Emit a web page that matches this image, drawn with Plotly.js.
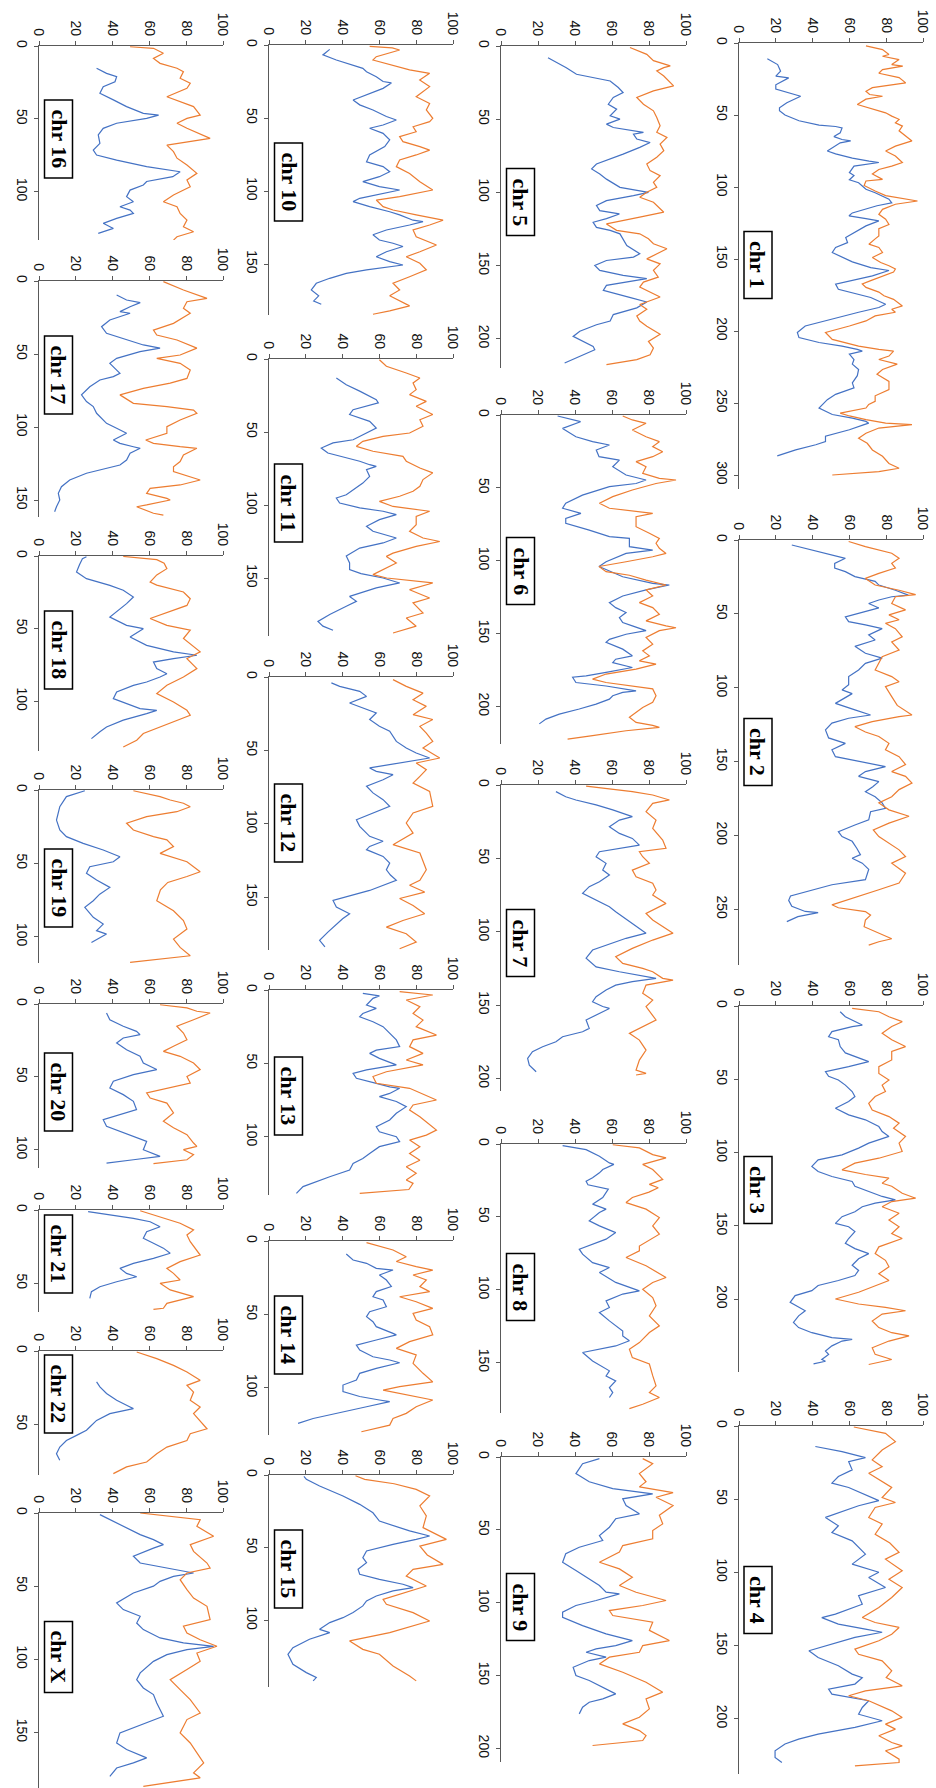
<!DOCTYPE html>
<html><head><meta charset="utf-8">
<script src="https://cdn.plot.ly/plotly-3.0.1.min.js"></script>
<style>html,body{margin:0;padding:0;background:#fff;overflow:hidden}#chart{width:936px;height:1788px}</style>
</head><body><div id="chart"></div><script>
// ---------------- data (position, value) ----------------
const chromosomes = ['chr 1','chr 2','chr 3','chr 4','chr 5','chr 6','chr 7','chr 8','chr 9','chr 10','chr 11','chr 12','chr 13','chr 14','chr 15','chr 16','chr 17','chr 18','chr 19','chr 20','chr 21','chr 22','chr X'];
const valueTicks = [0,20,40,60,80,100];

const chr1BluePos = [11,15,19.6,23,24.2,29,32,37,41.5,45,47,50,54,57,58,59,62.4,65,67,68,69.3,73,75,77,80,82,83,85.5,90,92,95,97,101.6,104,108.5,111,113,118,120,122,123.5,127,131.6,135,138.6,142,145.5,149,152,156,158,161.7,165,167.4,171,174,176.7,181.4,183.7,187,190.7,193,196.5,201,204.6,208,210.5,212.8,214,216,219.8,223,226.7,231,236,239.5,244,247.7,253.5,258,260.5,262.8,264,265,268.6,273,276.7,279,282.6,286.7];
const chr1Blue = [15.4,21,22.6,20,27,20,20,33.5,26,22,22,25,32.6,43.5,52.5,56,55,51.6,56,60.7,55,50,48,52.5,61.6,70.7,76,62.5,60,62.5,60,65,69,74,81.5,83,75,61.6,59.8,69,76,69,62.5,58,59,52.5,50.7,57,61.6,71.6,81.5,72.5,61.6,52.5,54,62.5,71.6,79.7,76,65,54,47,36,31.7,32.6,43.5,56,64.3,67,60,62.5,61.6,65,64.3,61.6,62.5,52.5,48,43.5,50.7,61.6,69,70.5,68,60,47,47,41.7,30.8,20.8];
const chr1OrangePos = [2,4.6,8,9.2,11.5,15,16,18.5,21,24,27.7,31,33.5,35.8,37,39,42.7,45,48.5,50.8,53,55.4,57.7,61,68,71.6,75,78.5,83,85.5,87.8,91,94.7,95.8,99,102.8,106,109.7,112,115.5,119,122.4,126,129,134,136,139.7,142,145.5,149,152.4,154.7,157,159,161.7,165,167.4,169.7,173,175.5,178,182.6,184.9,187,189.5,193,196.5,201,205.8,210.5,212.8,214,217.4,219.8,223,226.7,230,235,240.7,245,248.8,251,253.5,257,259,261.6,264,265,267.4,271,274.4,278,282.6,287,292,295.3,297.7,300];
const chr1Orange = [69,78,81.5,78,87,83,89,78,76,87,90.6,72.5,69,71,78,69,64.3,70.6,79.7,83,87,85,88.8,87,94,85,79.7,85,88.8,83,76,72.5,78,69,68,74,79.7,97,85,78,76,79.7,81.5,76,76,74,70.6,76,78,72.5,77,81.5,85,84,78,71.6,67,69,76,78.8,84,88.8,83,85,74,69,60,47,50.7,65,76,84,81.5,76,86,78,75,81.5,81.5,74,74,70.5,69,55,60,69,79.7,94,76,69,65,69.7,72.5,78,81.5,87,76,50.7];

const chr2BluePos = [3.4,6.8,10,12.4,15.8,19,21.4,24.8,28,30.5,34,37.3,38.4,40.6,43,46,52,55.3,57.5,60,64.3,67.7,72,76.7,80,83.5,88,92.5,98,101.5,104,110.6,115,118.5,120.7,124,128.6,134,137.7,142,146.7,150,153.4,156.8,160,163.6,167,170.4,173.8,178,181.7,184,189.5,193,197.5,200.8,204,208.7,213,215.5,218.8,223,230,233.4,238,241,244,248,251.5,252.3,255,258.4];
const chr2Blue = [28.7,39.6,50.5,57.8,52,52,57.8,63,74,76,85,92,83,76,70.5,76,57.8,59.6,68.7,77.8,70.5,74,63,68.7,77.8,68.7,65,59.6,59.6,56,61.5,52.4,63,71.5,59.6,50.5,47,48.7,57.8,50.5,52.4,65,79.6,68.7,65,76,72.7,68.7,74,77.8,79.6,71.5,70.5,63,54,56,61.5,64,66,61.5,67,70.5,68.7,50.5,36,28,27,28.7,36,43,32,26];
const chr2OrangePos = [1,4.5,9,12.4,15.8,19,22.6,26,30.5,34,37,38.4,43,47.3,50.7,54,56.4,60,65.5,69,74.5,79,88,92.5,96,99.3,106,112,118.5,119.6,123,126.4,130,133,137.7,142,146.7,152,156.8,160,164.6,169,173.8,178,182.7,187,191.7,196.3,200.8,205,209.8,214.3,218.8,225.6,232.3,236.8,240,243.7,247,249,251.6,254,257.3,261.8,266.4,270,272,274.3];
const chr2Orange = [59.6,68.7,83,87,83,85,76,68.7,74,87,96,85,83,90.5,81.5,87,79.6,85,88.7,83,87,77.8,74,83,87,79.6,83,86,94,87,72.4,63,68.7,76,81.5,79.6,87,90.5,83,90.5,94,87,83,76,81.5,92.4,81.5,73,76,81.5,87,90.5,83,90.5,87,76,68,59.6,50.5,54,68.7,71.5,68.7,68,76,83,76,70.5];

const chr3BluePos = [3.9,7.3,13,14.1,17.5,21,23,27.7,32,38,41.4,44.8,48,50.5,54,58.4,61.8,65.2,69.8,74.3,77.7,82.3,85.7,89,93.6,97,101.6,105,109.5,113,116.4,119.8,123,126.6,130,132.3,134.6,137,140.4,143.8,148.4,150.7,154,158.7,162,165.6,169,172.5,177,180.5,184,187.4,190.8,194.3,197.7,202.3,205.7,208,211.5,216,219.5,223,226.4,227.5,228.7,232,235.5,237.8,241.3,242.5,244.3];
const chr3Blue = [55,57.8,67,61.5,50.5,48.7,54,55,57.8,70.5,59.6,47,48.7,54,57.8,61.5,63,59.6,52.4,59.6,68.7,76,77.8,81.5,70.5,65,56,43,39.6,43,50.5,61.5,63,70.5,77.8,85,74,67,63,56,52.4,59.6,63,59.6,57.8,63,70.5,65,61.5,65,63,54,43,39.6,30.5,27.8,32.4,36,32.4,29.6,32.4,39.6,50.5,61.5,56,50.5,47,48.7,45,47,40.5];
const chr3OrangePos = [1.6,3.9,7.3,10.7,14,18.6,23,27.7,31,36.8,41.4,46,50.5,54,58.4,61.8,66.4,71,75.5,80,83.4,89,93.6,99.3,103.9,107.3,111.8,115,117.5,121,123,127.8,131.2,133.5,137,141.5,146,150.7,155.3,158.7,164.4,169,173.6,178,182.8,187.4,195.4,200,203.4,205.7,208,210.3,215,219.5,223,225.2,228.7,233.3,237.8,241.3,244.7];
const chr3Orange = [61.5,76,81.5,88.7,83,77.8,83,90.5,83,83,76,76,81.5,77.8,79.6,74,70.5,72.4,81.5,87,84,90.5,87,88.7,76,63,56,68.7,81.5,77.8,83,88.7,96,83,77.8,87,81.5,87,83,88.7,76,74,79.6,81.5,76,81.5,65,52.4,65,79.6,90.5,77.8,72.4,76,83,92.4,81.5,72.4,74,83,70.5];

const chr4BluePos = [14,17.5,21.6,24.3,30,34.5,39,42,51,54.5,62.5,68.2,72.8,78.5,87.6,94.4,100,103.5,110.4,116,121.8,128.6,131,135.4,138.8,141,144.5,150,153.6,158.2,163.9,169.6,172,176.4,179.8,183.3,187.8,192.4,197,201.5,206,210.6,214,217.4,222,226.5,230];
const chr4Blue = [41.5,56,68.7,59.6,61.5,54,50.5,59.6,76,65,47,54,50.5,61.5,68.7,61.5,76,70.5,79.6,65,67,52.4,45,54,68.7,77.8,63,47,38,43,54,61.5,67,63,48.7,50.5,70.5,67,65,77.8,63,43,32.4,25,19.6,19.6,23.3];
const chr4OrangePos = [0.7,5,10.7,16.4,23.2,27.8,32.3,36.8,42,48.9,52.3,55.7,62.5,67,74,80,86.4,91,99,104.7,110.4,117.2,124,130.9,134.3,137.7,142.3,146.8,152.5,156,160.5,167.3,172,177.6,181,184.4,187.8,194.7,199.2,203.8,207.2,211.7,216.3,218.6,222,227.7,230,232.3];
const chr4Orange = [62.4,79.6,85,77.8,72.4,77.8,70.5,76,83,77.8,85,74,70.5,77.8,74,82,87,79.6,88.7,81.5,88.7,83,76,67,74,87,83,76,63,65,77.8,83,80,88.7,68.7,59.6,70.5,83,88.7,79.6,85,76,83,88.7,79.6,87,87,63];

const chr5BluePos = [8,14.8,19.3,22.7,23.9,28.4,31.8,35.2,39.8,43.2,47.7,50,53.4,55.7,59,60.2,63.6,66,69.3,73.9,77.3,80.7,84,87.5,91,96.6,100,102.3,105.7,109,112.5,114.8,118,120.5,124,126,128.4,131.8,136.4,142,144.3,146.6,150,153.4,156.8,159,161.4,163.6,167,169.5,172,175,179,183.6,188,190.5,195,198.5,201.9,205.3,207.6,211,214.4,216.7];
const chr5Blue = [25.4,35.3,40.8,53.4,59,63.4,66,60.7,58,62.5,59,64.3,57,60.7,77,71.6,73.4,80.6,75,66,59,51.6,49,53.4,57,64.3,79.7,71.6,57,51.6,53.4,64,57,49.8,51.6,59,64.3,66,68,75,71.6,57,50.7,53.4,66,78.8,66,57,55.3,62,70,78.8,73.4,60.7,59,51.6,42.6,39,44.4,49.8,50.7,44.4,39,34.4];
const chr5OrangePos = [1,5.7,10,13.6,14.8,17,20.5,27.3,30.7,35.2,39.8,44.3,48.9,54.5,59,62.5,67,71.6,76,80.7,85.2,88.6,93.2,96.6,100,103.4,106.8,113.6,117,121.6,126,128.4,131.8,135.2,138.6,142,145.5,148.9,153.4,158,161.4,164.8,169.3,171.6,176.7,180,184.5,188,191.5,197,201.9,206.5,211,214.4,217.8];
const chr5Orange = [69.7,78.8,82.4,91.5,88,84.2,88,93.3,82.4,73.4,77,82.4,84.2,86,84.2,89.7,86,88,84.2,78.8,80.6,86,82.4,84.2,78.8,75,82.4,88,75,57,62.5,75,79.7,82.4,89.7,84.2,78.8,86,82.4,85,77,75,82.4,86,75,78.8,73.4,75,78.8,86,79.7,82.4,80.6,73.4,57];

const chr6BluePos = [0.7,4.6,9.2,14.9,18.3,20.6,24,28.6,31,35.5,41.2,44.6,47,49.2,55,60.6,64,67.5,71,74.4,79,83.5,84.7,90.4,92.7,95,100.7,104,111,115.6,116.7,120,124.2,128.8,132.2,135.6,139,142.5,144.7,148,150.5,154,156,160.7,165.3,167.6,170,173.3,176.7,179,180,183.6,186,188,189.3,190.4,192.7,195,198.4,201.8,205.3,208.7,212];
const chr6Blue = [30.6,43,33.3,40.5,49.5,58.6,51.5,53,64,60.4,67.6,78.4,73,58.6,44,35,33.3,43.2,35,35,47.7,58.6,69.4,69.4,82,67.6,56.8,53,65.8,82,91,78.4,65.8,58.6,62,67.6,64,65.8,71,78.4,67.6,58.6,56.8,65.8,71,62,60.4,71,56.8,46,38.7,40.5,56.8,67.6,73,65.8,60.4,58.6,51.4,42.3,31.5,24.3,20.7];
const chr6OrangePos = [0.7,3.4,5.7,10.3,14.9,18.3,21.7,25.2,28.6,32,35.5,40,43.5,44.6,47,51.5,56,60.6,64,65.2,67.5,69.8,76.7,81.2,84.7,88,91.5,95,97.3,100.7,104,107.5,110,113.3,116.7,120,124.2,128.8,132.2,136.8,141.3,144.7,146,148,152.7,157.3,161.9,165.3,168.7,171,174.4,177.8,181.3,183.6,185.8,188,192.7,197.2,200.7,207.5,211,213,214.4,216.7,220,222.4];
const chr6Orange = [65.8,71,78.4,71,78.4,85.6,82,87.4,82,73,78.4,76.6,85.6,94.6,83.8,71,60.4,53.2,58.6,67.6,82,73,73,80.2,85.6,83.8,85.6,89.2,82,67.6,53,56.8,69.4,78.4,89.2,78.4,82,74.8,82,85.6,78.4,89.2,94.6,85.6,78.4,82,76.6,80.2,74.8,83.8,73,56.8,49.5,56.8,71,82,83.8,82,76.6,69.4,73,82,85.6,67.6,49.5,36];

const chr7BluePos = [4.5,8,10.2,13.6,17,19.3,21.6,23.9,28.4,33,36.4,41,43.2,45.5,48.9,53.4,58,61.4,65.9,69.3,73.9,77.3,83,86.4,93.2,101,104.5,109,112.5,118,124,127.3,129.5,131.8,134,136.4,139.8,144.3,147.7,151,152.3,155.7,160.2,165.9,168.2,171.6,175,178.4,181.8,186.4,191,195.5];
const chr7Blue = [29.7,35,40.5,51.4,60.4,65.8,71,64,58.6,64,71,74.8,64,53.2,51.4,56.8,55,58.6,53.2,47.7,44.1,49.5,58.6,62,69.4,78.4,67.6,56.8,49.5,46,51.4,64,74.8,83.8,71,62,56.8,51.4,49.5,55,58.6,53,46,47.7,44.1,33.3,29.7,22.5,17,14.4,15.3,19];
const chr7OrangePos = [0.7,2.3,4.5,6.8,10.2,12.5,18.2,23.9,29.5,37.5,43.2,45.5,48.9,53.4,58,62.5,67,71.6,75,80.7,87.5,92,101,105.7,111.4,117,121.6,125,127.3,131.8,133,136.4,142,146.6,151,160.2,169.3,173.9,180.7,187.5,194.3,196.6,197.7];
const chr7Orange = [46,56.8,71,82,91,82,78.4,83.8,82,87.4,89.2,74.8,76.6,80.2,71,73,82,83.8,82,89.2,78.4,82,93,82,71,62,65.8,76.6,82,87.4,93,78.4,76.6,82,78.4,83.8,69.4,74.8,78.4,74.8,73,78.4,73];

const chr8BluePos = [1.1,3.9,8.4,13,14,17.5,19.8,23.2,25.5,28,31,36.7,41.3,44.7,47,52.7,56.2,60.8,65.3,72.2,75.6,81.4,84.8,88.2,95,100.8,103,107.7,112.2,115.7,121.4,128.3,131.7,135,138.6,140.8,143.1,148.9,155.7,159.2,162.6,167.2,170.6,174];
const chr8Blue = [33.3,46,53.2,58.6,61,55,53.2,49.5,46,47,58,55,49.5,56.8,53.2,47.7,53.2,62,56.8,42.3,44.1,49.5,58.6,53.2,62,74.8,65.8,56.8,58.6,53.2,58.6,65.8,65.8,69.4,62,53.2,44.1,49.5,58.6,56.8,62,58.6,60.4,58.6];
const chr8OrangePos = [0.5,2.7,7.3,9.5,14,17.5,24.3,27.7,30,33,36.7,40.2,44.7,50.5,56.2,61.9,70,73.3,77.9,83.6,91.6,95,99.7,105.4,111,118,124.8,129.4,136.3,140.8,146.6,151,159,166,170.6,174,178.6,181.6];
const chr8Orange = [60.4,74.8,82,89.2,76.6,82,87.4,80.2,85,80,71,67.6,78.4,85.6,82,85.6,74.8,74.8,67.6,78.4,89.2,82,76.6,82,83.8,80.2,85.6,80.2,74.8,69.4,71,80.2,82,83.8,80.2,85.6,76.6,69.4];

const chr9BluePos = [1.1,4.6,11.4,17,21.7,25.3,28.7,33.3,39,42.4,48.2,53.9,57.3,61.9,66.4,72.2,77.9,83.6,88.2,92.8,93.9,98.5,101.9,106.5,110,115.7,121.4,126,129.4,131.7,134,137.4,139.7,144.3,150,153.4,159.2,162.6,166,168.3,171.7,176.3];
const chr9Blue = [53.2,44.1,40.5,47.7,60.4,82,65.8,67.6,74.8,62,58.6,53.2,55,42.3,35,33.3,40.5,47.7,53.2,56.8,64,51.4,40.5,33.3,33.3,44.1,56.8,71,62,51.4,46,56.8,47.7,39,40.5,47.7,56.8,62,55,47.7,44.1,42.3];
const chr9OrangePos = [1.1,4.6,11.4,17,20.5,24.4,27.6,33.3,40,45.9,50.5,56.2,60.8,65.3,72.2,76.8,82.5,88.2,92.8,98.5,101.9,105.4,108.8,113.4,119,126,129.4,134,137.4,142,147.7,154.6,161.4,166,172.9,178.6,183.2,187.8,191.2,194.6,198];
const chr9Orange = [76.6,82,74.8,78.4,74.8,93,83.8,93,85.6,87.4,82,82,65.8,64,53.2,64,71,64,73,89.2,76.6,58.6,60.4,82,80.2,91,76.6,74.8,58.6,53.2,65.8,78.4,87.4,78.4,80.2,74.8,65.8,74.8,78.4,76.6,49.5];

const chr10BluePos = [3,6.8,10.3,13.7,16,18.3,21.7,25,26,29.7,34.2,37.7,41,44.5,49,51.4,54.8,57,60.5,65,69.6,75.3,80,83.3,86.8,90.2,93.6,97,99.3,101.6,105,107.3,110.7,114.2,116.4,120,121,123.3,126.7,130,133.6,135.8,138,141.6,145,148.4,150.7,154,156.4,159.8,163.2,167.8,171.8,175.3,177.6];
const chr10Blue = [33,29.3,36.6,45.7,51,53,58.3,62,66.5,62,53,45.7,49.3,56.5,63.8,69.2,62,54.7,62,65.6,62.9,54.7,53,62,65.6,60,51,60,71,62,49.3,45.7,54.7,65.6,71,78.3,83.7,76.4,63.8,56.5,60,67.4,72.8,63.8,58.3,65.6,72.8,53,42,33,25.7,23,27,24.3,28.4];
const chr10OrangePos = [1,2,3.4,8,10.3,14.8,17,19.4,24,28.5,35.4,40,44.5,50.2,52.5,56,59.4,62.8,66.2,69.6,72,75.3,78.8,83.3,88,93.6,99.3,103.9,106.2,110.7,113,116.4,120,123.3,126.7,131.3,137,141.6,145,149.5,154,158.7,163.2,167.8,171.8,178.7,182.1,184.4];
const chr10Orange = [54.7,67,71,58.3,56.5,69.2,76.4,87.3,81.9,87.3,80,87.3,85.5,89,87.3,78.3,80,71,72.8,82,87.3,80,71,69.2,76.4,82,89,71,58.3,62,67.4,80,94.6,87.3,78.3,80,91,82,74.6,82,85.5,76.4,67.4,71,65.6,76.4,65.6,56.5];

const chr11BluePos = [13,17.6,22,27.9,30,34.7,38,40.4,42.7,47.3,51.8,55.3,57.5,61,64.4,67.8,70,72.4,73.5,75.8,80.4,85,89.5,93,95.2,98.6,102,104.3,106.6,110,114.6,118,122.6,126,129.5,135,139.7,144.3,147,150,153.4,156.8,162.6,166,169.4,175,179.7,183,185.8];
const chr11Blue = [36.6,42,49.3,58.3,59.4,45.7,43.8,49.3,54.7,58.3,51,45.7,34.8,28.4,32,42,49.3,54.7,58.3,53,54.7,51,45.7,42,36.6,38.4,49.3,62,69.2,60,53,56.5,69.2,62,49.3,42,43.8,43.8,50,62,71,58.3,43.8,47.5,42,33,26.6,29.3,34.8];
const chr11OrangePos = [0.5,5,9.6,13,16.4,21,24.4,29,32.4,38,41.6,46,50.7,53,56.4,59.8,63.2,66.7,70,74.7,78,82.6,87.2,90.6,94,97.5,101,103.2,104.3,107.8,113.5,118,122.6,125,128.3,133,135.2,139.7,144.3,147.7,150,153.4,158,163.7,167,174,177.4,183,187.7];
const chr11Orange = [60,63.8,74.6,82,78.3,80,76.4,85.5,80,89,82,83.7,76.4,62,51,47.5,56.5,72.8,74.6,82,89,83.7,82,78.3,71,60,67.4,82,87.3,80,80,76.4,83.7,92.8,80,67.4,63.8,69.2,62,56.5,64,89,76.4,87.3,78.3,83.7,74.6,80,67.4];

const chr12BluePos = [4,6.4,9.8,13.2,17.7,21,24.5,29,33.6,37,43.9,48.4,51.8,55.2,58.6,62,64.3,66.6,70,74.5,79,83.6,88.2,92.7,97.3,101.8,108.6,112,115.5,117.7,122.3,126.8,131.4,135,138.6,145.5,152.3,156.8,161.4,164.8,170.5,173.9,179.5,184];
const chr12Blue = [33.9,38.4,49.3,53,43.8,51,58.3,54.7,60,65.6,69.2,74.6,80,87.3,71,54.7,58.3,67.4,62,53,56.5,62,65.6,56.5,47.5,49.3,54.7,62,54.7,53,62,65.6,63.8,66,69.2,54.7,34.8,36.6,43.8,40,34.8,32,27.5,30.4];
const chr12OrangePos = [1.8,6.4,11,15.5,20,25.7,29,33.6,38.2,43.9,48.4,55.2,58.6,63.2,67.7,72.3,78,88.2,92.7,99.5,106.4,114.3,120,125.7,131.4,138.6,142,146.6,151,155.7,161.4,166,170.5,175,180.7,185.2];
const chr12Orange = [67.4,74.6,83.7,78.3,85.5,78.3,89,82,85.5,89,83.7,92.8,80,85.5,82,78.3,87.3,89,78.3,74.6,78.3,67.4,82,83.7,85.5,82,76.4,84.6,71,78.3,84.6,72.8,63.8,74.6,80,71];

const chr13BluePos = [2.3,4,5.7,10.2,12.5,16,18.2,21.6,25,29.5,34,38.6,41,43.2,46.6,51,54.5,56.8,60.2,63.6,66,67,70.5,72.7,76,79.5,84,88.6,93.2,96.6,100,103.4,106.8,111.4,114.8,118.2,122.7,127.3,130.7,134,138.6];
const chr13Blue = [51,60,56.5,53,58.3,51,49.3,56.5,62,65.6,69.2,71,58.3,54.7,60,69.2,53,45.7,47.5,58.3,65.6,71,65.6,60,69.2,74.6,69.2,65.6,58.3,60,69.2,71,60,54.7,51,45.7,43.8,33,25.7,18.5,14.9];
const chr13OrangePos = [1.1,3.4,6.8,11.4,16,20.5,25,30.7,34,38.6,43.2,47.7,51,55.7,59,63.6,67,75,78.4,81.8,86.4,95.5,98.9,102.3,106.8,111.4,116,120.5,125,129.5,131.8,136,138.6];
const chr13Orange = [71,89,74.6,82,78.3,83.7,80,91,78.3,76.4,83.7,74.6,83.7,63.8,56.5,58.3,76.4,91,78.3,76.4,82,91,85.5,76.4,82,76.4,82,74.6,80,74.6,78.3,76,49.3];

const chr14BluePos = [8.9,13,15.2,18.6,19.8,23.2,26.6,31,34.5,38,40.2,44.8,48.2,51.6,55,58.4,63,64,67.5,71,74.3,78.9,81.1,83,86.8,90.2,94.8,98.2,102.7,106,108.4,109.5,113,117.5,121,124.3];
const chr14Blue = [42,45.7,53,58.3,67.4,60,63.8,66.5,58.3,56.5,62,63.8,54.7,53,56.5,58.3,67.4,69.2,58.3,47.5,49.3,56.5,65.6,71,58.3,49.3,47.5,40.2,40.2,49.3,60,65.6,53,36.6,24,15.8];
const chr14OrangePos = [1.1,6.1,10.7,14,17.5,19.8,23.2,26.6,31,34.5,38,41.4,45.9,49.3,53.9,58.4,64,68.6,73.2,77.7,83.4,90.2,96,99.3,101.6,105,108.4,113,117.5,121,125.5,130];
const chr14Orange = [53,67.4,74.6,69.2,80,89,78.3,85.5,82,87.3,71,80,89,78.3,80,87.3,89,76.4,69.2,80,78.3,83.7,89,71,62,76.4,89,80,74.6,67.4,65.6,50.2];

const chr15BluePos = [1,3,7.6,14.4,20.2,26,31.7,35,38.5,42,44.3,47.7,52.3,56.9,60.3,64.9,68.3,71.8,75.2,77.5,79.8,83.3,86.7,90.1,94.7,98.2,101.6,106.2,108.5,113,118.8,123.4,130.3,136,139.4,141.7];
const chr15Blue = [19,20.3,27.5,40.2,49.3,56.5,60,67.4,76.4,87.3,80,67.4,53,51,53,48.4,49.3,60,72.8,78.3,67.4,58.3,53,51,45.7,40.2,33,27.5,33,22,13,10.3,13,20.3,25.7,24];
const chr15OrangePos = [0.5,3,6,9.9,14.4,21.3,28.2,36.2,44.3,48.9,55,61.5,64.9,69.5,76.4,79.8,85.6,89,94.7,100.5,108.5,114.2,120,123.4,131.4,138.3,141.7];
const chr15Orange = [47,52,68,80,87.3,82,85.5,83.7,96.4,82,86,94.6,78.3,74.6,85.5,76.4,62,63.8,78.3,87.3,65.6,43.8,51,60,67.4,76.4,80];

const chr16BluePos = [15.3,18.8,21,24.5,28,32.5,37,41.6,46.2,47.4,49.7,53,56.5,61,66.8,71.4,74.8,78.3,82.8,85,86.3,89.7,93,95.4,98.9,103.4,106.9,110.3,112.6,114.9,118.3,121.7,125.2,128.6];
const chr16Blue = [31.3,36.7,42.2,41.3,34.9,33.1,40.4,47.6,56.7,65,58.5,42.2,34.9,32.2,33.1,29.5,31.3,42.2,58.5,71.3,76.7,72.7,58.5,56.7,49.5,47.6,51.3,44,49.5,51.3,42.2,34.9,40.4,32.2];
const chr16OrangePos = [0.5,1.6,5,8.5,11.9,15.3,17.6,22.2,25.6,29,34.8,38.2,41.6,47.4,49.7,53,56.5,63.4,65.7,68,72.5,77,81.7,87.4,92,96.6,102.3,106.9,110.3,114.9,119.5,124,127.5,130.9,133.2];
const chr16Orange = [49.5,62.2,67.6,62.2,65.8,75,78.5,76.7,82.2,80.4,69.5,76.7,84,87.6,80.4,75,80.4,93,80.4,69.5,73.1,75,80.4,85.8,80.4,82.2,73.1,67.6,75,76.7,80.4,78.5,84,75,73.1];

const chr17BluePos = [9.6,13,14.8,17.6,21,22.1,26.7,31.3,35.8,40.4,43.8,46,48.4,53,56.4,61,63.2,65.5,67.8,72.4,78,82.6,86,90.6,92.9,97.5,100.9,104.3,108.9,111.2,113.5,114.6,118,122.6,126,129.5,131.7,136.3,140.9,145.4,150,154.6,158];
const chr17Blue = [42.2,47.6,55,49.5,44,49.5,38.5,34,36.7,47.6,56.7,65.8,54.9,42.2,38.5,42.2,44,40.4,33.1,27.6,23.1,25.8,29.5,31.3,33.1,36.7,42.2,47.6,40.4,44,51.3,55,49.5,47.6,44,33.1,25.8,16.7,12.2,10.5,11.3,9.5,8.5];
const chr17OrangePos = [0.4,6.2,11.9,14.2,18.7,22.1,29,33.6,37,40.4,46,50.7,53,56.4,61,66.7,70,73.5,78,83.8,86,88.4,90.6,95.2,99.8,104.3,108.9,111.2,113.5,114.6,119.2,123.7,127.2,130.6,136.3,139.7,142,145.4,148.9,150,153.4,154.6,159.1,160.3];
const chr17Orange = [67.6,78.5,91.3,80.4,78.5,82.2,73.1,62.2,64,75,85.8,76.7,64,76.7,82.2,80.4,71.3,56.7,44,51.3,69.5,84,85.8,76.7,69.5,69.5,58,62.2,76.7,85.8,78.5,76.7,73.1,73.1,87.6,76.7,60.4,58.5,69.5,71.3,58.5,53.1,62.2,67.6];

const chr18BluePos = [0.5,1.8,6,11,15.6,20.2,23.6,28.2,32.8,42,47.7,50,55.7,61.5,66,68.3,70.6,73,77.5,81,83.3,86.7,89,93.6,98.2,101.6,105,106.2,108.5,113,117.7,121,125.7];
const chr18Blue = [25.8,23.6,22,20.4,25.8,38.5,45.8,51.3,47.6,38.5,47.6,56.7,49.5,58.5,73.1,85.8,73.1,62.2,64,69.5,65.8,58.5,51.3,42.2,40.4,47.6,54.9,64,58.5,45.8,36.7,33.1,28.5];
const chr18OrangePos = [0.3,2.5,5,8.7,13,17.9,20,24.8,29.4,34,43,47.7,51,56.8,66,70.6,77.5,83.3,89,94.7,100.5,106.2,109.6,114.2,122.2,126.8,131.4];
const chr18Orange = [45.8,64,68,69.5,64,60.4,64,78.5,82.2,80.4,60.4,69.5,82.2,78.5,87.6,80.4,85.8,78.5,69.5,64,73.1,80.4,82.2,73.1,56.7,53.1,45.8];

const chr19BluePos = [0.5,4.5,11.4,20.5,27.3,31.8,36.4,40.9,45.5,48.9,52.3,56.8,61.4,66.4,71,75.5,80,86.8,91.4,95.9,98.2,103.9];
const chr19Blue = [24.9,14.9,11.3,9.5,11.3,14.9,24,34.9,44,40.4,27.6,25.8,31.3,38.5,33,29.5,24.9,29.5,34.9,31.3,36.7,28.5];
const chr19OrangePos = [0.5,4.5,6.8,9,11.4,14.8,18.2,22.7,27.3,31.8,34,38.6,43.2,48.9,55.7,59,63,68,75.5,82.3,89,94.8,101.6,107.3,113,117.5];
const chr19Orange = [51.3,65.8,71.3,78.5,82.2,74.9,58.5,47.6,51.3,62.2,69.5,73.1,65.8,80.4,87.6,80.4,70,66,64,73.1,78.5,80.4,73.1,76.7,82.2,49.5];

const chr20BluePos = [6.2,10.8,15.3,18.8,21,23.3,26.8,31.4,35.9,40.5,45,48.5,53,57.7,62.2,66.8,72.5,76,79.4,84,90.8,94.3,100,104.6,106.9,109.2];
const chr20Blue = [36.7,38.5,45.8,53,54.9,45.8,42.2,47.6,54.9,56.7,64,51.3,40.4,38.5,45.8,51.3,53,44,34.9,36.7,51.3,58.5,56.7,65.8,51.3,36.7];
const chr20OrangePos = [0.5,2.7,5,6.2,10.8,15.3,19.9,24.5,29,32.5,35.9,40.5,45,49.7,54.2,57.7,61,64.5,68,74.8,80.5,85,89.7,95.4,97.7,100,103.4,106.9,109.6];
const chr20Orange = [65.8,80.4,85.8,93,84,74.9,78.5,80.4,73.1,67.6,76.7,84,87.6,80.4,82.2,69.5,58.5,60.4,69.5,73.1,67.6,73.1,80.4,84,85.8,78.5,84,80.4,62.2];

const chr21BluePos = [1.1,3.4,5.7,8,11.4,14.8,19.3,22.7,26,29.5,33,36.4,39.8,43.2,45.5,48.9,52.3,55.7,60.2];
const chr21Blue = [26.7,38.5,51.3,60.4,65.8,58.5,56.7,62.2,67.6,71.3,62.2,51.3,44,47.6,53.1,42.2,33.1,28.5,27.6];
const chr21OrangePos = [0.5,4.5,9,13.6,17,21.6,30.7,35.2,39.8,43.2,47.7,50,54.5,59,63.6,67,67.7];
const chr21Orange = [55,65.8,76.7,84,80.4,82.2,87.6,76.7,69.5,73.1,76.7,65.8,71.3,84,69.5,67.6,62.2];

const chr22BluePos = [21.1,24.5,29,33.6,38.2,39.3,42.7,47.3,51.8,54,57.5,61,65.5,70,74.5];
const chr22Blue = [31.3,33.1,36.7,42.2,49.5,51.3,38.5,31.3,27.6,25.8,20.4,14.9,11.3,9.5,11.3];
const chr22OrangePos = [0.7,5.2,9.8,14.3,20,23.4,28,33.6,38.2,42.7,53,56.4,61,65.5,70,75.7,79,83.6];
const chr22Orange = [53.1,64,73.1,80.4,87.6,80.4,84,82.2,87.6,84,91.3,82.2,80.4,69.5,64,58.5,47.6,40.4];

const chrXBluePos = [1.1,5.7,10.3,14.8,18.2,21.6,24,29.6,34.2,37.6,41,43.3,46.7,50,54.7,61.5,66,70.6,75.2,79.7,85.4,88.8,91.1,93.4,96.8,101.4,109.3,113.9,119.6,124.1,129.8,138.9,143.5,150.3,157.2,161.7,167.4,170.8,174.3,180];
const chrXBlue = [33.1,40.4,47.6,55,62.2,67.6,62.2,51.3,55,69.5,84,73.1,65.8,62.2,51.3,42.2,45.8,55,53.1,56.7,65.8,78.5,94.9,80.4,69.5,62.2,55,53.1,56.7,62.2,64,67.6,58.5,44,42.2,47.6,58.5,51.3,42.2,38.5];
const chrXOrangePos = [0,4.6,9.1,15.9,21.6,26.2,34.2,37.6,41,45.6,52.4,58.1,63.8,72.9,77.4,82,86.6,91.1,95.7,101.4,107,113.9,120.7,127.6,136.7,141.2,150.3,157.2,170.8,177.6,181,186.8];
const chrXOrange = [55,87.6,85.8,94.9,82.2,84,91.3,93,80.4,76.7,80.4,84,91.3,93,78.5,80.4,87.6,96.7,85.8,87.6,80.4,71.3,76.7,82.2,87.6,80.4,76.7,82.2,89.5,84,87.6,56.7];

const bluePos = [chr1BluePos,chr2BluePos,chr3BluePos,chr4BluePos,chr5BluePos,chr6BluePos,chr7BluePos,chr8BluePos,chr9BluePos,chr10BluePos,chr11BluePos,chr12BluePos,chr13BluePos,chr14BluePos,chr15BluePos,chr16BluePos,chr17BluePos,chr18BluePos,chr19BluePos,chr20BluePos,chr21BluePos,chr22BluePos,chrXBluePos];
const blueVal = [chr1Blue,chr2Blue,chr3Blue,chr4Blue,chr5Blue,chr6Blue,chr7Blue,chr8Blue,chr9Blue,chr10Blue,chr11Blue,chr12Blue,chr13Blue,chr14Blue,chr15Blue,chr16Blue,chr17Blue,chr18Blue,chr19Blue,chr20Blue,chr21Blue,chr22Blue,chrXBlue];
const orangePos = [chr1OrangePos,chr2OrangePos,chr3OrangePos,chr4OrangePos,chr5OrangePos,chr6OrangePos,chr7OrangePos,chr8OrangePos,chr9OrangePos,chr10OrangePos,chr11OrangePos,chr12OrangePos,chr13OrangePos,chr14OrangePos,chr15OrangePos,chr16OrangePos,chr17OrangePos,chr18OrangePos,chr19OrangePos,chr20OrangePos,chr21OrangePos,chr22OrangePos,chrXOrangePos];
const orangeVal = [chr1Orange,chr2Orange,chr3Orange,chr4Orange,chr5Orange,chr6Orange,chr7Orange,chr8Orange,chr9Orange,chr10Orange,chr11Orange,chr12Orange,chr13Orange,chr14Orange,chr15Orange,chr16Orange,chr17Orange,chr18Orange,chr19Orange,chr20Orange,chr21Orange,chr22Orange,chrXOrange];

// ---------------- layout geometry (pixels) ----------------
const W = 936, H = 1788;
const colX = [[739,923],[501,686],[269,453],[39,223]];
const colBox = [758,520.5,288.5,58.5];
// [column, top px, bottom px, px per unit, label centre px, box length px]
const panelGeom = [
 [0,43,489,1.44,265,67],[0,540,965,1.477,752,67],[0,1006,1372,1.465,1190,67],[0,1426,1774,1.463,1600,67],
 [1,46,368,1.463,202,67],[1,415,744,1.457,571,67],[1,785,1091,1.467,943,67],[1,1144,1413,1.457,1287,67],[1,1457,1762,1.457,1607,67],
 [2,45,315,1.46,182,78],[2,359,636,1.46,503,78],[2,677,950,1.467,823,78],[2,990,1195,1.467,1096,78],[2,1241,1435,1.467,1335,78],[2,1475,1687,1.453,1569,78],
 [3,46,240,1.457,139,78],[3,281,517,1.46,375,78],[3,556,751,1.453,650,78],[3,790,963,1.467,888,78],[3,1004,1168,1.457,1092,78],[3,1210,1312,1.467,1254,78],[3,1351,1475,1.467,1394,78],[3,1513,1788,1.463,1657,71]
];

const axisColor = '#595959';
const tickFont = {family:'Liberation Sans, Arial, sans-serif', size:14, color:'#111'};
const traces = [];
const layout = {width:W, height:H, margin:{l:0,r:0,t:0,b:0}, autosize:false, showlegend:false,
  paper_bgcolor:'#fff', plot_bgcolor:'rgba(0,0,0,0)', annotations:[], shapes:[]};

panelGeom.forEach((g, i) => {
  const [col, y0, y1, s, labY, boxLen] = g;
  const suf = i === 0 ? '' : String(i + 1);
  const L = (y1 - y0) / s;
  const [xa, xb] = colX[col];
  traces.push({x: blueVal[i], y: bluePos[i], xaxis:'x'+suf, yaxis:'y'+suf, type:'scatter', mode:'lines',
    line:{color:'#4472C4', width:1.2}, hoverinfo:'skip'});
  traces.push({x: orangeVal[i], y: orangePos[i], xaxis:'x'+suf, yaxis:'y'+suf, type:'scatter', mode:'lines',
    line:{color:'#ED7D31', width:1.2}, hoverinfo:'skip'});
  const posTicks = [];
  for (let t = 0; t <= L + 0.01; t += 50) posTicks.push(t);
  layout['xaxis'+suf] = {domain:[xa/W, xb/W], range:[0,100], anchor:'y'+suf, side:'top',
    showline:true, linecolor:axisColor, linewidth:1, ticks:'outside', ticklen:4, tickcolor:axisColor, tickwidth:1,
    tickvals:valueTicks, ticktext:valueTicks.map(String), tickangle:90, tickfont:tickFont,
    showgrid:false, zeroline:false, fixedrange:true};
  layout['yaxis'+suf] = {domain:[1 - y1/H, 1 - y0/H], range:[L, 0], anchor:'x'+suf, side:'left',
    showline:true, linecolor:axisColor, linewidth:1, ticks:'outside', ticklen:4, tickcolor:axisColor, tickwidth:1,
    tickvals:posTicks, ticktext:posTicks.map(String), tickangle:90, tickfont:tickFont,
    showgrid:false, zeroline:false, fixedrange:true};
  const cx = colBox[col];
  layout.shapes.push({type:'rect', xref:'paper', yref:'paper', x0:(cx-14)/W, x1:(cx+14)/W,
    y0:1-(labY+boxLen/2)/H, y1:1-(labY-boxLen/2)/H, line:{color:'#000', width:1.5}, fillcolor:'#fff', layer:'above'});
  layout.annotations.push({xref:'paper', yref:'paper', x:cx/W, y:1-labY/H, text:'<b>'+chromosomes[i]+'</b>',
    textangle:90, showarrow:false, xanchor:'center', yanchor:'middle',
    font:{family:'Liberation Serif, Times New Roman, serif', size:22, color:'#000'}});
});

Plotly.newPlot('chart', traces, layout, {staticPlot:true, displayModeBar:false});
</script></body></html>
